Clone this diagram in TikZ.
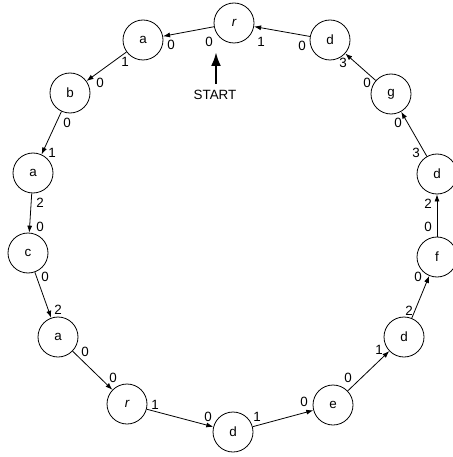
\documentclass[tikz,border=0pt]{standalone}
\usepackage{fontspec}
\setmainfont{Liberation Sans}
\usetikzlibrary{arrows.meta}

\begin{document}
\begin{tikzpicture}[x=1pt, y=-1pt,
    every node/.style={font=\fontsize{13.4}{15}\selectfont},
    state/.style={draw, circle, minimum size=40pt, inner sep=0pt, line width=0.8pt},
    link/.style={-{Latex[length=7pt,width=5pt]}, line width=0.8pt},
    port/.style={inner sep=0pt}]

    \useasboundingbox (0,0) rectangle (452,457);

    % states
    \node [state] (r1) at (234,23) {\itshape r};
    \node [state] (a1) at (143,40) {a};
    \node [state] (b1) at (70,93) {b};
    \node [state] (a2) at (33,173) {a};
    \node [state] (c1) at (28,253) {c};
    \node [state] (a3) at (58,337) {a};
    \node [state] (r2) at (127,404) {\itshape r};
    \node [state] (d1) at (233,432) {d};
    \node [state] (e1) at (333,405) {e};
    \node [state] (d2) at (404,337) {d};
    \node [state] (f1) at (437,257) {f};
    \node [state] (d3) at (437,174) {d};
    \node [state] (g1) at (391,94) {g};
    \node [state] (d4) at (330,40) {d};

    % links
    \draw [link] (r1) -- (a1);
    \draw [link] (a1) -- (b1);
    \draw [link] (b1) -- (a2);
    \draw [link] (a2) -- (c1);
    \draw [link] (c1) -- (a3);
    \draw [link] (a3) -- (r2);
    \draw [link] (r2) -- (d1);
    \draw [link] (d1) -- (e1);
    \draw [link] (e1) -- (d2);
    \draw [link] (d2) -- (f1);
    \draw [link] (f1) -- (d3);
    \draw [link] (d3) -- (g1);
    \draw [link] (g1) -- (d4);
    \draw [link] (d4) -- (r1);

    % ports
    %% r -> a -> b -> a -> c -> a -> r
    \node [port] (p1) at (209,42) {0};
    \node [port] (p2) at (171,45) {0};
    \node [port] (p3) at (125,62) {1};
    \node [port] (p4) at (100,83) {0};
    \node [port] (p5) at (67,123) {0};
    \node [port] (p6) at (52,153) {1};
    \node [port] (p7) at (40,203) {2};
    \node [port] (p8) at (40,227) {0};
    \node [port] (p9) at (45,277) {0};
    \node [port] (p10) at (58,310) {2};
    \node [port] (p11) at (85,352) {0};
    \node [port] (p12) at (113,378) {0};
    %% r -> d -> e -> d -> f -> d -> g -> d -> r
    \node [port] (p13) at (155,405) {1};
    \node [port] (p14) at (208,417) {0};
    \node [port] (p15) at (257,417) {1};
    \node [port] (p16) at (304,402) {0};
    \node [port] (p17) at (348,378) {0};
    \node [port] (p18) at (379,350) {1};
    \node [port] (p19) at (409,311) {2};
    \node [port] (p20) at (418,277) {0};
    \node [port] (p21) at (428,227) {0};
    \node [port] (p22) at (428,204) {2};
    \node [port] (p23) at (416,153) {3};
    \node [port] (p24) at (398,123) {0};
    \node [port] (p25) at (367,83) {0};
    \node [port] (p26) at (343,63) {3};
    \node [port] (p27) at (302,46) {0};
    \node [port] (p28) at (261,42) {1};

    % start
    \node [port] (start) at (215,95) {START};
    \coordinate (go) at (216,52);
    \draw [line width=2.6pt, -{Latex[length=14pt,width=10pt]}, shorten <=6pt] (start.north -| go) -- (go);

\end{tikzpicture}
\end{document}
